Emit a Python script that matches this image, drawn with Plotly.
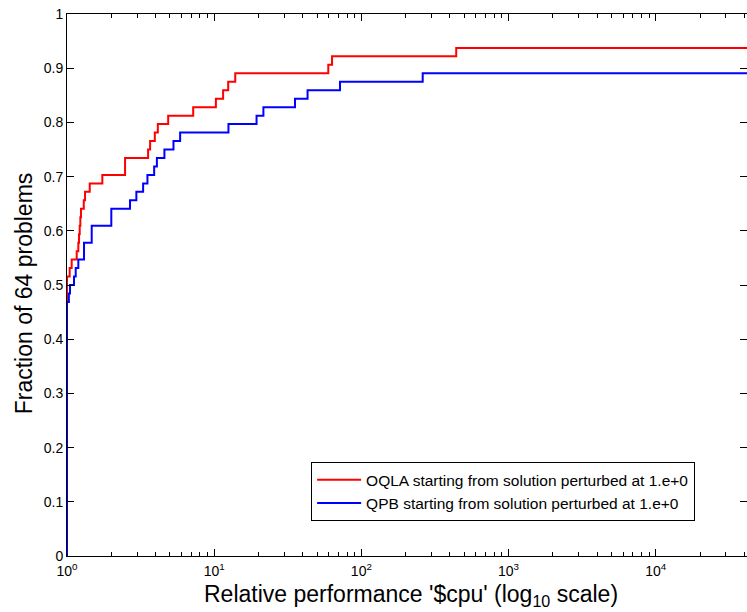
import plotly.graph_objects as go

N_PROBLEMS = 64

# OQLA (red) performance profile: tau thresholds and number of problems solved
oqla_tau = [1.0, 1.0, 1.043, 1.076, 1.164, 1.194, 1.207, 1.22, 1.232, 1.245, 1.30, 1.326,
            1.427, 1.738, 2.48, 3.556, 3.67, 3.95, 4.14, 4.87, 7.2, 10.27, 11.5, 12.45,
            13.9, 59.6, 63.2, 441.0, 42000.0]
oqla_cnt = [0, 33, 34, 35, 36, 37, 38, 39, 40, 41, 42, 43,
            44, 45, 47, 48, 49, 50, 51, 52, 53, 54, 55, 56,
            57, 58, 59, 60, 60]

# QPB (blue) performance profile
qpb_tau = [1.0, 1.0, 1.03, 1.048, 1.116, 1.146, 1.194, 1.305, 1.472, 2.0, 2.68, 2.96,
           3.29, 3.52, 3.91, 4.08, 4.59, 5.29, 5.87, 12.5, 19.4, 21.6, 35.4, 43.1,
           71.6, 261.0, 42000.0]
qpb_cnt = [0, 30, 31, 32, 33, 34, 35, 37, 39, 41, 42, 43,
           44, 45, 46, 47, 48, 49, 50, 51, 52, 53, 54, 55,
           56, 57, 57]

y_ticks = [0, 0.1, 0.2, 0.3, 0.4, 0.5, 0.6, 0.7, 0.8, 0.9, 1]
y_tick_text = ["0", "0.1", "0.2", "0.3", "0.4", "0.5", "0.6", "0.7", "0.8", "0.9", "1"]
x_ticks = [1, 10, 100, 1000, 10000]
x_tick_text = ["10<sup>0</sup>", "10<sup>1</sup>", "10<sup>2</sup>", "10<sup>3</sup>", "10<sup>4</sup>"]

labels = ["OQLA starting from solution perturbed at 1.e+0",
          "QPB starting from solution perturbed at 1.e+0"]
x_title = "Relative performance '$cpu' (log<sub>10</sub> scale)"
y_title = "Fraction of 64 problems"

minor_vals = [m * 10 ** k for k in range(0, 5) for m in range(2, 10)]

FONT = "Liberation Sans, Arial, sans-serif"

fig = go.Figure()
fig.add_trace(go.Scatter(x=oqla_tau, y=[c / N_PROBLEMS for c in oqla_cnt], mode="lines",
                         line=dict(color="#ff0000", width=2, shape="hv"), name=labels[0]))
fig.add_trace(go.Scatter(x=qpb_tau, y=[c / N_PROBLEMS for c in qpb_cnt], mode="lines",
                         line=dict(color="#0000ff", width=2, shape="hv"), name=labels[1]))

fig.update_layout(
    width=747, height=612,
    margin=dict(l=67, r=0, t=14, b=56),
    paper_bgcolor="white", plot_bgcolor="white",
    font=dict(family=FONT, color="black", size=14),
    showlegend=True,
    legend=dict(x=0.359, y=0.173, xanchor="left", yanchor="top",
                bgcolor="white", bordercolor="black", borderwidth=1,
                font=dict(family=FONT, size=15.5), tracegroupgap=0,
                itemwidth=44),
    annotations=[
        dict(text=x_title, xref="paper", yref="paper", x=0.506, y=-0.072,
             xanchor="center", yanchor="middle", showarrow=False,
             font=dict(family=FONT, size=23)),
        dict(text=y_title, xref="paper", yref="paper", x=-0.063, y=0.485,
             xanchor="center", yanchor="middle", showarrow=False, textangle=-90,
             font=dict(family=FONT, size=23)),
    ],
)
fig.update_xaxes(
    type="log", range=[0, 4.62],
    tickmode="array", tickvals=x_ticks, ticktext=x_tick_text,
    ticks="inside", ticklen=7, tickcolor="black", tickwidth=1,
    minor=dict(ticks="inside", ticklen=4, tickcolor="black", tickmode="array",
               tickvals=minor_vals, showgrid=False),
    showline=True, linecolor="black", linewidth=1, mirror="ticks",
    showgrid=False, zeroline=False,
    tickfont=dict(size=14), ticklabelstandoff=2,
)
fig.update_yaxes(
    range=[0, 1],
    tickmode="array", tickvals=y_ticks, ticktext=y_tick_text,
    ticks="inside", ticklen=7, tickcolor="black", tickwidth=1,
    showline=True, linecolor="black", linewidth=1, mirror="ticks",
    showgrid=False, zeroline=False,
    tickfont=dict(size=14),
)

fig.write_html("out.html")
